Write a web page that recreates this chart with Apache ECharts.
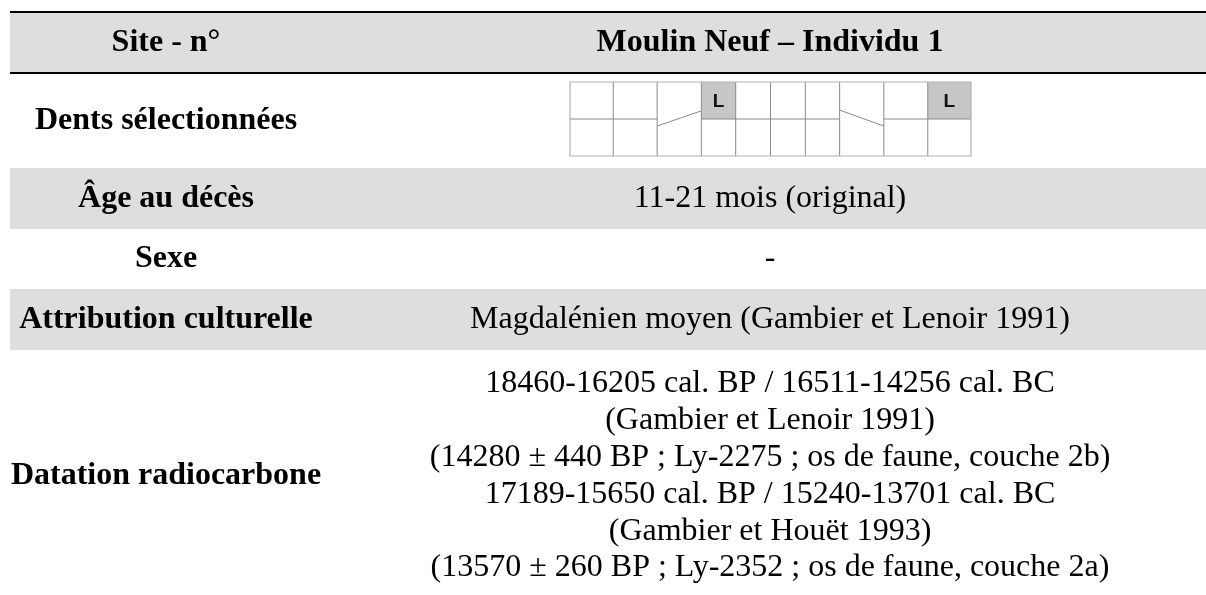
<!DOCTYPE html>
<html><head><meta charset="utf-8">
<script src="https://cdn.jsdelivr.net/npm/echarts@6/dist/echarts.min.js"></script>
<style>html,body{margin:0;padding:0;background:#fff}#c{width:1206px;height:595px}</style>
</head><body><div id="c"></div>
<script>
// ---- table content ----
const rowLabels = ['Site - n°', 'Dents sélectionnées', 'Âge au décès', 'Sexe', 'Attribution culturelle', 'Datation radiocarbone'];
const rowValues = ['Moulin Neuf – Individu 1', '', '11-21 mois (original)', '-', 'Magdalénien moyen (Gambier et Lenoir 1991)', ''];
const rowShaded = [1, 0, 1, 0, 1, 0];
const datationLines = [
  '18460-16205 cal. BP / 16511-14256 cal. BC',
  '(Gambier et Lenoir 1991)',
  '(14280 ± 440 BP ; Ly-2275 ; os de faune, couche 2b)',
  '17189-15650 cal. BP / 15240-13701 cal. BC',
  '(Gambier et Houët 1993)',
  '(13570 ± 260 BP ; Ly-2352 ; os de faune, couche 2a)'
];
// ---- dental chart content ----
const toothTypes = ['dm2', 'dm1', 'c', 'i2', 'i1', 'i1', 'i2', 'c', 'dm1', 'dm2'];
const selectedTeeth = [[3, 0, 'L'], [9, 0, 'L']];          // [column, row (0 = upper), label]
const splitTeeth = [[2, 0.19, -0.22], [7, -0.24, 0.19]];   // [column, left offset, right offset] of the diagonal

// ---- layout (positions / sizes / styles) ----
const LAY = {
  rowEdges: [12, 73, 168, 229, 289, 350, 602],
  x0: 10, x1: 1206, labelX: 166, valueX: 770,
  datCenter: 476, datPitch: 36.8,
  frame: [565, 74.2, 977, 167],
  teeth: { left: 570, top: 82, width: 401, height: 74 },
  toothW: { dm2: 43.2, dm1: 43.9, c: 44.2, i2: 34.3, i1: 34.8 },
  band: '#dedede', sel: '#c6c6c6', inner: '#8a8a8a', outer: '#b2b2b2',
  serif: '"Liberation Serif", "Times New Roman", serif', fs: 32
};
const edges = [0];
toothTypes.forEach(t => edges.push(edges[edges.length - 1] + LAY.toothW[t]));
const total = edges[edges.length - 1];

const chart = echarts.init(document.getElementById('c'), null, { renderer: 'canvas' });
const hid = { show: false };
const textItem = (x, y, text, bold) => ({
  type: 'text',
  style: { text, x, y, align: 'center', verticalAlign: 'middle', fill: '#000',
    fontFamily: LAY.serif, fontSize: LAY.fs, fontWeight: bold ? 'bold' : 'normal' }
});

chart.setOption({
  animation: false,
  grid: [
    { left: 0, top: 0, width: 1206, height: 595 },
    { left: LAY.teeth.left, top: LAY.teeth.top, width: LAY.teeth.width, height: LAY.teeth.height }
  ],
  xAxis: [
    { type: 'value', min: 0, max: 1206, gridIndex: 0, axisLine: hid, axisTick: hid, axisLabel: hid, splitLine: hid },
    { type: 'value', min: 0, max: total, gridIndex: 1, axisLine: hid, axisTick: hid, axisLabel: hid, splitLine: hid }
  ],
  yAxis: [
    { type: 'value', min: 0, max: 595, inverse: true, gridIndex: 0, axisLine: hid, axisTick: hid, axisLabel: hid, splitLine: hid },
    { type: 'value', min: 0, max: 2, inverse: true, gridIndex: 1, axisLine: hid, axisTick: hid, axisLabel: hid, splitLine: hid }
  ],
  series: [
    { // shaded row bands
      type: 'custom', xAxisIndex: 0, yAxisIndex: 0, z: 1, clip: false, silent: true,
      data: rowShaded.map((s, i) => [i, s]),
      renderItem: (p, api) => {
        const i = api.value(0);
        if (!api.value(1)) return null;
        const a = api.coord([LAY.x0, LAY.rowEdges[i]]), b = api.coord([LAY.x1, LAY.rowEdges[i + 1]]);
        return { type: 'rect', shape: { x: a[0], y: a[1], width: b[0] - a[0], height: b[1] - a[1] }, style: { fill: LAY.band } };
      }
    },
    { // black rules (top and below header)
      type: 'custom', xAxisIndex: 0, yAxisIndex: 0, z: 2, clip: false, silent: true,
      data: [[0], [1]],
      renderItem: (p, api) => {
        const y = LAY.rowEdges[api.value(0)];
        const a = api.coord([LAY.x0, y]), b = api.coord([LAY.x1, y]);
        return { type: 'line', shape: { x1: a[0], y1: a[1], x2: b[0], y2: b[1] }, style: { stroke: '#000', lineWidth: 2.2 } };
      }
    },
    { // white frame of the dental chart picture
      type: 'custom', xAxisIndex: 0, yAxisIndex: 0, z: 3, clip: false, silent: true,
      data: [[0]],
      renderItem: (p, api) => {
        const f = LAY.frame, a = api.coord([f[0], f[1]]), b = api.coord([f[2], f[3]]);
        return { type: 'rect', shape: { x: a[0], y: a[1], width: b[0] - a[0], height: b[1] - a[1] }, style: { fill: '#fff' } };
      }
    },
    { // row labels
      type: 'custom', xAxisIndex: 0, yAxisIndex: 0, z: 6, clip: false, silent: true,
      data: rowLabels.map((t, i) => [i]),
      renderItem: (p, api) => {
        const i = api.value(0);
        const yv = i === 5 ? LAY.datCenter : (LAY.rowEdges[i] + LAY.rowEdges[i + 1]) / 2;
        const c = api.coord([LAY.labelX, yv]);
        return textItem(c[0], c[1], rowLabels[i], true);
      }
    },
    { // row values
      type: 'custom', xAxisIndex: 0, yAxisIndex: 0, z: 6, clip: false, silent: true,
      data: rowValues.map((t, i) => [i]),
      renderItem: (p, api) => {
        const i = api.value(0);
        if (!rowValues[i]) return null;
        const c = api.coord([LAY.valueX, (LAY.rowEdges[i] + LAY.rowEdges[i + 1]) / 2]);
        return textItem(c[0], c[1], rowValues[i], i === 0);
      }
    },
    { // radiocarbon dating lines
      type: 'custom', xAxisIndex: 0, yAxisIndex: 0, z: 6, clip: false, silent: true,
      data: datationLines.map((t, i) => [i]),
      renderItem: (p, api) => {
        const i = api.value(0);
        const off = (i - (datationLines.length - 1) / 2) * LAY.datPitch;
        const c = api.coord([LAY.valueX, LAY.datCenter + off]);
        return textItem(c[0], c[1], datationLines[i], false);
      }
    },
    { // selected teeth (shaded cells + label)
      type: 'custom', xAxisIndex: 1, yAxisIndex: 1, z: 7, clip: false, silent: true,
      data: selectedTeeth.map(d => [d[0], d[1]]),
      renderItem: (p, api) => {
        const col = api.value(0), row = api.value(1);
        const a = api.coord([edges[col], row]), b = api.coord([edges[col + 1], row + 1]);
        return { type: 'group', children: [
          { type: 'rect', shape: { x: a[0], y: a[1], width: b[0] - a[0], height: b[1] - a[1] }, style: { fill: LAY.sel } },
          { type: 'text', style: { text: selectedTeeth[p.dataIndex][2], x: (a[0] + b[0]) / 2, y: (a[1] + b[1]) / 2 + 1,
            align: 'center', verticalAlign: 'middle', fill: '#111', fontFamily: '"Liberation Sans", Arial, sans-serif',
            fontSize: 19, fontWeight: 'bold' } }
        ] };
      }
    },
    { // dental chart inner lines
      type: 'custom', xAxisIndex: 1, yAxisIndex: 1, z: 8, clip: false, silent: true,
      data: toothTypes.map((t, i) => [i]),
      renderItem: (p, api) => {
        const i = api.value(0);
        const ch = [];
        const st = { stroke: LAY.inner, lineWidth: 1 };
        if (i > 0) {
          const a = api.coord([edges[i], 0]), b = api.coord([edges[i], 2]);
          ch.push({ type: 'line', shape: { x1: a[0], y1: a[1], x2: b[0], y2: b[1] }, style: st });
        }
        const sp = splitTeeth.find(s => s[0] === i);
        let a, b;
        if (sp) { a = api.coord([edges[i], 1 + sp[1]]); b = api.coord([edges[i + 1], 1 + sp[2]]); }
        else { a = api.coord([edges[i], 1]); b = api.coord([edges[i + 1], 1]); }
        ch.push({ type: 'line', shape: { x1: a[0], y1: a[1], x2: b[0], y2: b[1] }, style: st });
        return { type: 'group', children: ch };
      }
    },
    { // dental chart outer border
      type: 'custom', xAxisIndex: 1, yAxisIndex: 1, z: 9, clip: false, silent: true,
      data: [[0]],
      renderItem: (p, api) => {
        const a = api.coord([0, 0]), b = api.coord([total, 2]);
        return { type: 'rect', shape: { x: a[0], y: a[1], width: b[0] - a[0], height: b[1] - a[1] },
          style: { fill: 'none', stroke: LAY.outer, lineWidth: 1.2 } };
      }
    }
  ]
});
</script></body></html>
